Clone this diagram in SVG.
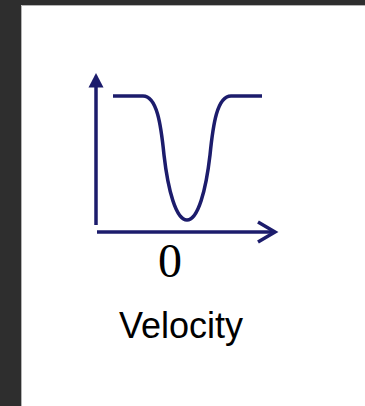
<svg xmlns="http://www.w3.org/2000/svg" width="365" height="406" viewBox="0 0 365 406">
<style>
.ln{fill:none;stroke:#1c1c6c;stroke-width:3.5}
.t0{font-family:"Liberation Serif",serif;font-size:48px;fill:#000}
.tv{font-family:"Liberation Sans",Arial,sans-serif;font-size:36px;fill:#000}
</style>
<rect x="0" y="0" width="365" height="406" fill="#2e2e2e"/>
<rect x="21" y="5" width="344" height="401" fill="#ffffff"/>
<path d="M21.5,406 V5.5 H365" fill="none" stroke="#b4b4b4" stroke-width="1"/>
<g id="axes">
<path class="ln" d="M96,225 V85"/>
<polygon points="96,73 88.5,87.5 103.5,87.5" fill="#1c1c6c"/>
<path class="ln" d="M97,232 H274"/>
<path class="ln" d="M258,222 L275,232 L258,242"/>
</g>
<g id="curve">
<path class="ln" d="M113,96 H143 C157,96 161,125 164,155 C168,190 176,220 187,220 C198,220 206,190 210,155 C213,125 217,96 231,96 H262"/>
</g>
<g id="labels">
<text class="t0" x="170" y="277" text-anchor="middle">0</text>
<text class="tv" x="181" y="338" text-anchor="middle">Velocity</text>
</g>
</svg>
